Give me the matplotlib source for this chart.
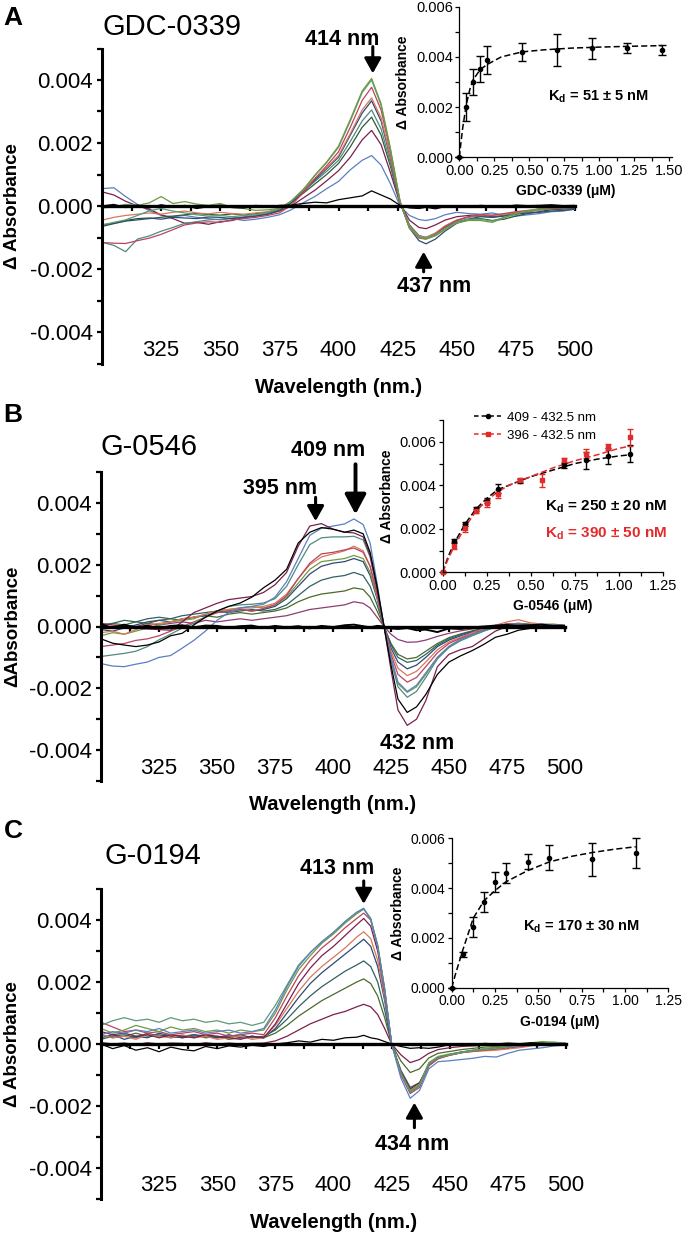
import numpy as np
import matplotlib
matplotlib.use("Agg")
import matplotlib.pyplot as plt
from matplotlib.ticker import MultipleLocator
from matplotlib.lines import Line2D

plt.rcParams['font.family'] = ['Liberation Sans', 'DejaVu Sans']
plt.rcParams['mathtext.fontset'] = 'custom'
plt.rcParams['mathtext.rm'] = 'Liberation Sans'
plt.rcParams['mathtext.bf'] = 'Liberation Sans:bold'

# spectra values are in units of 1e-4 absorbance
UNIT = 1e-4

# ---------------- panel A : GDC-0339 ----------------
wl_a = [300, 305, 310, 315, 320, 325, 330, 335, 340, 345, 350, 355, 360, 365, 370,
        375, 380, 385, 390, 395, 400, 405, 410, 414, 418, 422, 426, 430, 434, 437,
        441, 445, 450, 455, 460, 465, 470, 475, 480, 485, 490, 495, 500]
a_black = [0, 0.5, -0.5, 0.3, -0.6, 0.4, -0.3, 0.2, -0.8, -0.2, 0.3, -0.5, -0.6, 0.2, -0.3,
           0.2, 0.3, 0.8, 1.2, 1.0, 2.0, 2.6, 3.2, 4.8, 3.5, 2.2, 0.2, -0.6, -0.8, -0.4,
           -0.9, -0.2, 0.1, -0.3, 0.2, 0.0, -0.2, 0.3, 0.1, 0.2, 0.4, 0.1, 0.2]
a_blue = [5.5, 5.8, 3.0, 0.5, -1.5, -3.0, -3.4, -3.0, -3.6, -4.0, -4.4, -4.0, -4.6, -4.2, -3.6,
          -2.8, -1.2, 1.0, 3.0, 5.5, 7.8, 11.5, 14.5, 16.0, 13.0, 7.0, 0.0, -3.0, -4.3, -4.6,
          -4.0, -2.8, -2.0, -2.4, -2.6, -2.2, -3.0, -3.2, -2.8, -2.4, -1.8, -1.6, -1.0]
a_maroon = [4.5, 3.5, 1.5, 0.0, -1.0, -2.8, -4.0, -5.5, -5.2, -5.8, -5.0, -4.6, -3.6, -3.2, -2.6,
            -1.6, 0.0, 2.5, 5.0, 8.0, 11.2, 15.5, 21.0, 24.0, 19.5, 10.5, 0.8, -4.5, -6.8, -7.2,
            -6.0, -4.5, -3.4, -3.0, -2.8, -3.4, -3.0, -2.2, -1.8, -1.2, -1.0, -0.8, -0.6]
a_dkgreen = [-6.5, -5.6, -4.8, -4.4, -4.0, -3.6, -3.2, -2.8, -2.4, -2.7, -2.9, -2.5, -2.9, -2.4, -2.0,
             -1.0, 1.0, 4.0, 7.0, 10.0, 13.5, 18.8, 25.0, 28.2, 22.5, 12.5, 1.0, -6.0, -9.4, -10.0,
             -8.8, -6.8, -5.0, -4.2, -4.0, -4.6, -4.2, -3.2, -2.4, -1.8, -1.2, -1.0, -0.8]
a_teal = [-11.5, -12.5, -14.5, -10.5, -9.5, -8.0, -6.8, -5.5, -5.0, -4.4, -4.2, -3.8, -3.5, -3.0, -2.4,
          -1.2, 1.2, 4.5, 7.8, 11.0, 14.5, 20.5, 27.0, 30.5, 24.5, 13.5, 1.0, -6.2, -9.5, -10.0,
          -8.6, -6.5, -4.6, -3.6, -3.2, -3.6, -3.0, -2.4, -1.8, -1.3, -0.9, -0.7, -0.5]
a_navy = [-6.0, -5.5, -4.6, -4.0, -3.8, -4.2, -3.6, -3.8, -4.0, -3.5, -3.6, -4.0, -3.6, -3.2, -2.6,
          -1.4, 1.0, 4.6, 8.2, 11.8, 15.5, 22.5, 29.5, 33.4, 27.0, 15.0, 1.2, -7.0, -11.0, -12.0,
          -10.5, -8.0, -5.5, -4.2, -3.4, -3.6, -3.2, -2.6, -2.2, -2.0, -1.6, -1.4, -1.0]
a_orange = [-4.5, -3.6, -3.0, -2.6, -2.2, -2.6, -2.0, -1.6, -2.2, -2.5, -2.0, -2.4, -2.6, -2.2, -1.8,
            -0.8, 1.5, 5.0, 8.8, 12.2, 16.0, 23.0, 30.5, 34.3, 28.0, 15.5, 1.2, -6.5, -9.6, -10.0,
            -8.6, -6.3, -4.4, -3.4, -2.8, -3.0, -2.6, -2.0, -1.6, -1.2, -0.8, -0.6, -0.4]
a_pink = [-11.6, -11.8, -11.9, -11.0, -10.2, -9.0, -7.5, -6.0, -5.4, -5.0, -5.2, -4.4, -4.0, -3.6, -3.0,
          -2.2, 0.2, 4.2, 8.6, 12.8, 17.2, 25.0, 33.5, 37.7, 30.5, 17.0, 1.5, -7.0, -10.2, -10.5,
          -9.0, -6.6, -4.6, -3.4, -2.8, -2.9, -2.4, -1.8, -1.4, -1.0, -0.8, -0.5, -0.3]
a_olive = [-0.6, -0.3, 0.5, 0.2, 1.0, 3.0, 0.8, 1.4, 0.6, 0.2, 0.8, -0.4, -0.8, -1.4, -1.2,
           -0.8, 1.5, 5.0, 9.8, 14.0, 19.0, 27.5, 36.5, 40.5, 32.5, 18.0, 1.6, -7.0, -10.0, -10.5,
           -9.5, -7.5, -5.4, -4.6, -4.6, -5.2, -3.8, -2.4, -1.6, -0.8, -0.4, -0.2, 0.0]
a_seagreen = [-6.0, -5.2, -4.4, -3.0, -1.5, -0.8, -1.6, -2.2, -2.8, -3.2, -3.0, -3.4, -3.0, -2.8, -2.0,
              -1.0, 1.6, 5.2, 9.6, 13.8, 18.6, 27.0, 36.0, 40.0, 32.0, 17.8, 1.4, -6.8, -9.8, -10.2,
              -9.2, -7.2, -5.0, -4.2, -4.2, -4.8, -3.6, -2.4, -1.6, -1.0, -0.6, -0.3, -0.2]

# inset A
conc_a = [0, 0.05, 0.10, 0.15, 0.20, 0.45, 0.70, 0.95, 1.20, 1.45]
dabs_a = [0, 0.00200, 0.00299, 0.00352, 0.00388, 0.00419, 0.00427, 0.00435, 0.00437, 0.00427]
err_a = [0, 0.00055, 0.00052, 0.00053, 0.00055, 0.00035, 0.00065, 0.00042, 0.00020, 0.00019]
fit_a_x = [0, 0.01, 0.025, 0.05, 0.075, 0.10, 0.15, 0.20, 0.30, 0.45, 0.60, 0.80, 1.00, 1.20, 1.45]
fit_a_y = [0, 0.0005, 0.0012, 0.0021, 0.0027, 0.0031, 0.0035, 0.0037, 0.0040, 0.0042, 0.00428,
           0.00435, 0.00439, 0.00442, 0.00445]

# ---------------- panel B : G-0546 ----------------
wl_b = [300, 305, 310, 315, 320, 325, 330, 335, 340, 345, 350, 355, 360, 365, 370, 375,
        380, 385, 390, 395, 400, 405, 409, 413, 416, 419, 422, 425, 428, 432, 436, 440,
        445, 450, 455, 460, 465, 470, 475, 480, 485, 490, 495, 500]
b_blue = [-12.0, -12.8, -13.0, -12.2, -11.5, -10.0, -9.4, -7.0, -4.5, -1.5, 2.0, 4.5, 6.0, 6.5, 7.2, 9.5,
          14.5, 22.0, 29.5, 31.8, 32.5, 33.2, 34.8, 33.0, 27.0, 14.0, 0.0, -10.0, -18.0, -21.0, -19.0, -15.0,
          -10.0, -6.5, -4.2, -2.6, -1.2, 0.0, 0.6, 0.8, 0.6, 0.8, 0.5, 0.3]
b_black = [-4.0, -5.4, -6.0, -6.5, -6.0, -5.0, -3.0, -2.2, 0.5, 3.0, 5.0, 6.5, 7.6, 9.5, 12.5, 15.0,
           18.5, 27.0, 30.5, 32.0, 31.5, 30.5, 31.2, 30.0, 24.0, 13.0, 0.0, -12.5, -23.5, -27.8, -26.0, -22.0,
           -15.5, -11.5, -9.5, -7.8, -5.8, -3.5, -2.5, -1.2, -0.6, 0.0, 0.2, 0.0]
b_maroon = [1.0, 0.5, 0.0, -0.5, -0.8, -1.0, -1.2, 1.5, 4.5, 6.0, 7.5, 8.7, 9.2, 9.7, 11.0, 13.5,
            17.5, 26.0, 32.5, 33.3, 31.5, 30.5, 30.3, 29.0, 23.0, 12.0, 0.0, -14.0, -27.0, -32.0, -30.0, -24.0,
            -13.0, -9.0, -7.5, -6.5, -4.0, -1.5, 0.0, 0.4, 0.5, 0.3, 0.2, 0.1]
b_teal = [-9.7, -9.2, -8.7, -8.0, -6.5, -4.3, -2.5, -0.5, 1.0, 3.0, 5.0, 6.5, 7.0, 7.2, 7.6, 9.0,
          13.0, 20.0, 26.5, 28.7, 29.0, 29.0, 29.2, 28.0, 22.5, 12.0, 0.0, -11.0, -19.5, -22.9, -21.0, -16.5,
          -10.5, -6.8, -4.6, -3.0, -1.5, -0.2, 0.6, 0.8, 0.6, 0.4, 0.6, 0.2]
b_pink = [-6.5, -6.0, -5.5, -4.5, -4.0, -3.0, -1.5, 0.0, 1.5, 3.0, 4.5, 5.0, 5.5, 5.0, 5.8, 7.0,
          10.0, 15.5, 20.5, 23.5, 24.0, 24.8, 25.4, 24.0, 19.5, 10.5, 0.0, -9.0, -15.5, -18.0, -16.5, -13.0,
          -8.5, -5.5, -3.8, -2.4, -1.2, 0.0, 0.8, 1.0, 0.6, 0.5, 0.6, 0.2]
b_orange = [-2.0, -1.5, -2.5, -1.0, 0.5, 1.0, 1.5, 2.5, 3.0, 4.0, 5.0, 5.5, 6.0, 6.0, 6.5, 7.5,
            10.5, 15.5, 20.0, 22.5, 23.5, 24.5, 26.0, 24.5, 19.5, 10.0, 0.0, -8.0, -13.5, -15.9, -14.5, -11.5,
            -7.5, -5.0, -3.5, -2.0, -0.8, 0.4, 1.5, 2.2, 1.2, 0.8, 0.6, 0.2]
b_olive = [-3.0, -2.0, -2.5, -1.5, -0.5, 0.5, 1.5, 2.0, 2.5, 4.0, 5.0, 5.5, 6.0, 6.5, 6.0, 7.0,
           9.5, 14.0, 18.5, 21.0, 21.5, 22.0, 23.0, 22.0, 17.5, 9.5, 0.0, -10.5, -18.5, -21.3, -19.5, -15.5,
           -10.0, -6.4, -4.2, -2.8, -1.4, -0.2, 0.6, 1.0, 0.8, 0.6, 0.8, 0.3]
b_navy = [-1.0, -1.5, -0.5, 0.5, 1.5, 2.0, 1.5, 2.5, 3.0, 3.5, 4.5, 5.0, 5.5, 5.0, 5.5, 6.5,
          9.0, 13.0, 17.0, 19.5, 20.5, 21.0, 22.0, 21.0, 16.5, 9.0, 0.0, -7.0, -11.5, -13.7, -12.5, -10.0,
          -6.5, -4.4, -3.0, -1.8, -0.8, 0.2, 0.8, 1.0, 0.6, 0.6, 0.4, 0.2]
b_dkteal = [0.5, 1.0, 2.0, 1.5, 2.5, 3.0, 2.5, 3.5, 4.0, 4.5, 5.0, 4.5, 5.0, 5.5, 5.0, 5.5,
            7.0, 10.0, 13.0, 15.0, 16.0, 16.5, 17.5, 16.5, 13.0, 7.0, 0.0, -6.0, -10.0, -11.6, -11.0, -9.0,
            -6.0, -4.0, -2.6, -1.6, -0.6, 0.2, 0.8, 0.8, 0.5, 0.4, 0.6, 0.2]
b_dkolive = [0.0, 1.0, 0.5, 1.5, 1.0, 2.0, 2.5, 2.0, 3.0, 3.5, 3.0, 4.0, 4.5, 4.0, 4.5, 5.0,
             6.0, 8.0, 9.5, 10.5, 11.0, 11.5, 12.5, 12.0, 9.5, 5.0, 0.0, -5.5, -9.0, -10.5, -10.0, -8.0,
             -5.5, -3.6, -2.4, -1.4, -0.6, 0.2, 0.6, 0.6, 0.4, 0.5, 0.3, 0.1]
b_purple = [0.0, -0.5, 0.5, 0.0, 1.0, 0.5, 1.0, 1.5, 1.0, 2.0, 1.5, 2.0, 2.5, 2.0, 2.5, 3.0,
            3.5, 4.5, 5.5, 6.0, 6.5, 7.0, 8.0, 7.5, 6.0, 3.0, 0.0, -2.5, -4.2, -5.1, -5.0, -4.4,
            -3.2, -2.2, -1.4, -0.8, -0.4, 0.0, 0.4, 0.4, 0.3, 0.2, 0.3, 0.1]
b_base = [0.8, -0.5, 0.6, -0.4, 0.3, -0.6, 0.2, 0.4, -0.3, 0.3, 0.2, -0.4, 0.1, 0.3, -0.5, 0.2,
          -0.3, 0.1, -0.6, 0.2, -0.2, 0.4, 0.6, 0.1, -0.3, 0.2, 0.0, -0.6, -0.8, -0.5, -1.2, -1.0,
          -1.8, -0.6, -0.8, -0.3, 0.0, 0.3, 0.5, 0.2, 0.4, 0.6, 0.2, 0.3]

# inset B (two wavelength pairs)
conc_b_k = [0, 0.0625, 0.125, 0.1875, 0.25, 0.3125, 0.4375, 0.6875, 0.8125, 0.9375, 1.0625]
dabs_b_k = [0, 0.00145, 0.00222, 0.00290, 0.00330, 0.00385, 0.00420, 0.00492, 0.00515, 0.00535, 0.00545]
err_b_k = [0, 0.0001, 0.0001, 0.0001, 0.0001, 0.0002, 0.0001, 0.00012, 0.0004, 0.00035, 0.0004]
conc_b_r = [0, 0.0625, 0.125, 0.1875, 0.25, 0.3125, 0.4375, 0.5625, 0.6875, 0.8125, 0.9375, 1.0625]
dabs_b_r = [0, 0.00122, 0.00203, 0.00283, 0.00318, 0.00360, 0.00423, 0.00423, 0.00515, 0.00545, 0.00575, 0.00620]
err_b_r = [0, 0.00015, 0.00017, 0.0001, 0.0002, 0.0002, 0.0001, 0.0003, 0.0001, 0.0002, 0.00015, 0.0004]
fit_b_x = [0, 0.03, 0.0625, 0.125, 0.1875, 0.25, 0.3125, 0.375, 0.4375, 0.5, 0.625, 0.75, 0.875, 1.0, 1.0625]
fit_b_k = [0, 0.0007, 0.0013, 0.0022, 0.0029, 0.0034, 0.0038, 0.0040, 0.0042, 0.0044, 0.0047, 0.0050,
           0.0052, 0.00535, 0.0054]
fit_b_r = [0, 0.0006, 0.00115, 0.00205, 0.0028, 0.0033, 0.0037, 0.0040, 0.0042, 0.0044, 0.0048, 0.00513,
           0.0054, 0.0057, 0.0058]

# ---------------- panel C : G-0194 ----------------
wl_c = [300, 305, 310, 315, 320, 325, 330, 335, 340, 345, 350, 355, 360, 365, 370, 375,
        380, 385, 390, 395, 400, 405, 410, 413, 416, 419, 422, 425, 429, 433, 437, 441,
        445, 450, 455, 460, 465, 470, 475, 480, 485, 490, 495, 500]
c_blue = [3.0, 4.0, 3.5, 4.5, 4.0, 5.0, 3.5, 4.0, 4.5, 3.5, 4.0, 4.5, 3.5, 4.0, 5.0, 11.0,
          18.5, 25.0, 29.5, 33.0, 36.0, 39.5, 42.5, 43.8, 40.0, 31.5, 17.5, 0.0, -11.0, -17.5, -15.0, -8.0,
          -5.7, -5.4, -5.0, -4.6, -4.0, -4.2, -3.0, -2.0, -1.6, -1.2, -0.6, -0.3]
c_seagreen = [6.0, 7.5, 8.5, 7.5, 8.0, 7.0, 8.5, 7.5, 8.0, 7.0, 7.5, 6.5, 7.0, 6.0, 7.0, 12.5,
              19.0, 25.5, 29.5, 33.0, 36.0, 39.5, 42.5, 43.6, 40.5, 31.5, 17.5, 0.0, -9.5, -15.5, -13.5, -6.5,
              -4.5, -3.5, -2.8, -2.2, -1.8, -1.4, -1.0, -0.6, 0.0, 0.4, 0.6, 0.2]
c_olive = [5.0, 3.5, 4.5, 6.0, 5.0, 4.0, 5.5, 4.5, 5.0, 4.0, 4.5, 3.5, 4.5, 4.0, 4.5, 10.0,
           17.5, 24.0, 28.5, 32.5, 35.5, 39.0, 42.0, 43.5, 40.5, 32.0, 18.0, 0.0, -9.5, -15.0, -13.0, -6.0,
           -4.0, -3.2, -2.6, -2.0, -1.5, -1.0, -0.6, -0.2, 0.4, 0.8, 0.5, 0.3]
c_pink = [7.0, 5.5, 4.0, 4.5, 3.5, 4.0, 3.0, 3.5, 4.0, 3.0, 3.5, 2.5, 3.0, 3.5, 3.0, 8.5,
          15.5, 22.0, 27.0, 31.0, 34.0, 37.5, 40.5, 42.2, 40.0, 31.5, 17.5, 0.0, -10.0, -16.0, -14.0, -7.0,
          -4.8, -3.6, -2.8, -2.4, -2.0, -1.6, -1.2, -0.8, -0.4, 0.0, 0.2, 0.0]
c_magenta = [4.0, 3.0, 3.5, 2.5, 3.0, 2.0, 3.0, 2.5, 2.0, 3.0, 2.5, 2.0, 1.5, 2.5, 2.0, 6.5,
             13.0, 19.5, 24.5, 28.5, 31.5, 35.0, 38.5, 40.5, 38.0, 30.0, 16.5, 0.0, -9.0, -14.5, -12.5, -6.5,
             -4.4, -3.4, -2.6, -2.2, -1.8, -1.4, -1.0, -0.6, -0.2, 0.0, 0.3, 0.0]
c_orange = [3.0, 2.0, 2.5, 1.5, 3.0, 2.5, 2.0, 3.0, 2.0, 2.5, 1.5, 2.0, 2.5, 1.5, 2.0, 6.0,
            11.5, 17.0, 21.5, 25.0, 28.0, 31.0, 34.5, 36.2, 34.0, 27.0, 15.0, 0.0, -9.0, -15.0, -13.0, -6.5,
            -4.5, -3.6, -2.8, -2.4, -2.2, -2.0, -1.6, -1.2, -0.6, -0.2, 0.2, 0.0]
c_navy = [2.0, 3.0, 1.5, 2.5, 2.0, 3.5, 2.5, 2.0, 3.0, 2.5, 2.0, 3.0, 2.0, 2.5, 2.0, 5.0,
          10.0, 15.0, 19.5, 23.0, 26.0, 29.0, 32.0, 33.8, 31.5, 25.0, 14.0, 0.0, -9.5, -15.5, -13.5, -7.0,
          -4.6, -3.6, -2.8, -2.2, -2.0, -1.6, -1.2, -0.8, -0.4, 0.0, 0.2, 0.0]
c_dkteal = [1.5, 2.5, 3.0, 2.0, 3.5, 2.5, 3.0, 2.0, 2.5, 3.0, 2.0, 2.5, 3.0, 2.0, 2.5, 4.5,
            8.0, 12.0, 15.5, 18.5, 21.0, 23.5, 25.5, 26.8, 25.0, 20.0, 11.0, 0.0, -8.5, -14.0, -12.5, -6.8,
            -4.4, -3.4, -2.6, -2.0, -1.6, -1.2, -0.8, -0.4, 0.0, 0.2, 0.4, 0.1]
c_dkolive = [3.0, 2.0, 2.5, 3.5, 2.5, 3.0, 2.0, 2.5, 3.0, 2.0, 2.5, 1.5, 2.0, 2.5, 2.0, 3.5,
             6.0, 9.0, 11.5, 14.0, 16.0, 18.0, 20.0, 21.0, 19.5, 15.5, 8.5, 0.0, -5.5, -9.2, -8.0, -4.5,
             -3.0, -2.4, -1.8, -1.4, -1.0, -0.8, -0.4, -0.2, 0.2, 0.4, 0.2, 0.1]
c_maroon = [0.5, 0.0, 0.3, -0.2, 0.4, 0.0, 0.3, 0.2, -0.2, 0.4, 0.0, 0.3, 0.0, 0.2, 0.3, 1.0,
            2.5, 4.5, 6.5, 8.0, 9.5, 10.5, 12.0, 12.8, 12.0, 9.5, 5.0, 0.0, -3.5, -6.0, -5.0, -3.0,
            -1.8, -1.2, -0.8, -0.6, -0.4, -0.3, -0.2, 0.0, 0.1, 0.2, 0.1, 0.0]
c_black = [0.0, -1.5, -0.5, -2.0, -1.2, -2.5, -1.0, -1.8, -2.2, -0.8, -1.5, -0.6, -1.0, -0.4, -0.8, 0.0,
           0.4, 1.0, 0.6, 1.5, 1.2, 2.0, 2.2, 2.8, 2.0, 1.6, 0.8, 0.0, -0.8, -1.4, -1.2, -1.4,
           -1.0, -0.2, 0.0, -0.3, 0.2, 0.0, 0.3, 0.1, 0.4, 0.2, 0.0, 0.1]

# inset C
conc_c = [0, 0.0625, 0.125, 0.1875, 0.25, 0.3125, 0.4375, 0.5625, 0.8125, 1.0625]
dabs_c = [0, 0.00135, 0.00242, 0.00344, 0.00424, 0.00459, 0.00505, 0.00522, 0.00515, 0.00540]
err_c = [0, 0.0001, 0.0004, 0.0004, 0.0004, 0.0004, 0.0003, 0.0005, 0.00065, 0.0006]
fit_c_x = [0, 0.02, 0.0625, 0.125, 0.1875, 0.25, 0.3125, 0.4375, 0.5625, 0.6875, 0.8125, 0.9375, 1.0625]
fit_c_y = [0, 0.0005, 0.00148, 0.0028, 0.0035, 0.0039, 0.00425, 0.0047, 0.00505, 0.00527, 0.00543,
           0.00556, 0.00566]

# colours
BLUE, MAROON, DKGREEN, TEAL = '#5b7fc0', '#7b1f4b', '#2f5a35', '#4f8a80'
NAVY, ORANGE, PINK, OLIVE = '#2d4a75', '#d9775a', '#b8455f', '#6f9a3f'
SEAGREEN, PURPLE, DKOLIVE, DKTEAL = '#5c9a78', '#8e3c72', '#4b6a2a', '#2f6262'
RED = '#e32b2b'

W, H = 690, 1236
fig = plt.figure(figsize=(W / 100, H / 100), dpi=100)


def px_axes(l, t, r, b):
    return fig.add_axes([l / W, 1 - b / H, (r - l) / W, (b - t) / H])


def style_main(ax, ylabel):
    ax.set_xlim(300, 500)
    ax.set_ylim(-0.005, 0.005)
    ax.spines['top'].set_visible(False)
    ax.spines['right'].set_visible(False)
    ax.spines['left'].set_linewidth(2.2)
    ax.spines['bottom'].set_position(('data', 0))
    ax.spines['bottom'].set_linewidth(2.4)
    ax.set_xticks(np.arange(325, 501, 25))
    ax.set_xticks(np.arange(312.5, 500, 25), minor=True)
    ax.tick_params(axis='x', which='both', length=3.5, width=1.6, labelbottom=False)
    ax.set_yticks([-0.004, -0.002, 0, 0.002, 0.004])
    ax.set_yticklabels(['-0.004', '-0.002', '0.000', '0.002', '0.004'])
    ax.yaxis.set_minor_locator(MultipleLocator(0.001))
    ax.tick_params(axis='y', which='both', length=3.5, width=1.6, labelsize=16, pad=3)
    sec = ax.secondary_xaxis(0.085)
    sec.set_xticks(np.arange(325, 501, 25))
    sec.tick_params(length=0, labelsize=16, pad=2)
    for s in sec.spines.values():
        s.set_visible(False)
    ax.text(0.5, -0.075, 'Wavelength (nm.)', transform=ax.transAxes, ha='center',
            va='center', fontsize=14.5, fontweight='bold')
    ax.text(-0.19, 0.5, ylabel, transform=ax.transAxes, ha='center', va='center',
            rotation=90, fontsize=13.5, fontweight='bold')


def style_inset(ax, xmax, ymax, xticks, xlabel, tsize):
    ax.set_xlim(0, xmax)
    ax.set_ylim(0, ymax)
    ax.spines['top'].set_visible(False)
    ax.spines['right'].set_visible(False)
    for s in ['left', 'bottom']:
        ax.spines[s].set_linewidth(0.9)
    ax.set_xticks(xticks)
    ax.set_xticklabels(['%.2f' % v for v in xticks])
    ax.xaxis.set_minor_locator(MultipleLocator(0.125))
    yt = [0, 0.002, 0.004, 0.006]
    ax.set_yticks(yt)
    ax.set_yticklabels(['%.3f' % v for v in yt])
    ax.yaxis.set_minor_locator(MultipleLocator(0.001))
    ax.tick_params(which='both', direction='out', length=3, width=0.9, labelsize=tsize, pad=1.5)
    ax.set_xlabel(xlabel, fontsize=10, fontweight='bold', labelpad=5)
    ax.set_ylabel('Δ Absorbance', fontsize=10, fontweight='bold', labelpad=4)


def arrow(ax, x, y0, y1, big=False):
    if big:
        st, lw, ms = '-|>,head_length=0.6,head_width=0.32', 2.8, 20
    else:
        st, lw, ms = '-|>,head_length=0.5,head_width=0.28', 2.2, 18
    ax.annotate('', xy=(x, y1), xytext=(x, y0), annotation_clip=False,
                arrowprops=dict(arrowstyle=st, lw=lw, color='k', mutation_scale=ms,
                                shrinkA=0, shrinkB=0))


def label_text(ax, x, y, s):
    ax.text(x, y, s, ha='center', va='center', fontsize=15.5, fontweight='bold', clip_on=False)


def spectra(ax, wl, curves):
    for vals, col in curves:
        ax.plot(wl, np.array(vals) * UNIT, color=col, lw=0.9)


# ---------- A ----------
axA = px_axes(102, 48.5, 575, 363.5)
spectra(axA, wl_a, [(a_blue, BLUE), (a_maroon, MAROON), (a_dkgreen, DKGREEN), (a_teal, TEAL),
                    (a_navy, NAVY), (a_orange, ORANGE), (a_pink, PINK), (a_seagreen, SEAGREEN),
                    (a_olive, OLIVE), (a_black, 'k')])
style_main(axA, 'Δ Absorbance')
arrow(axA, 414.5, 0.00506, 0.00421)
label_text(axA, 401.6, 0.00527, '414 nm')
arrow(axA, 436, -0.00209, -0.00145)
label_text(axA, 440.5, -0.00256, '437 nm')
fig.text(13 / W, 1 - 18 / H, 'A', fontsize=19, fontweight='bold', ha='center', va='center')
fig.text(103 / W, 1 - 27 / H, 'GDC-0339', fontsize=21, ha='left', va='center')

iA = px_axes(459.3, 6.7, 672, 157.3)
iA.plot(fit_a_x, fit_a_y, color='k', lw=1.1, dashes=(4, 2))
iA.errorbar(conc_a, dabs_a, yerr=err_a, fmt='o', ms=3, color='k', elinewidth=1,
            capsize=3, capthick=1, clip_on=False)
style_inset(iA, 1.52, 0.006, [0, 0.25, 0.5, 0.75, 1.0, 1.25, 1.5], 'GDC-0339 (μM)', 10.5)
iA.text(0.655, 0.4, r'K$_{\mathbf{d}}$ = 51 ± 5 nM', transform=iA.transAxes, ha='center',
        va='center', fontsize=10.5, fontweight='bold')

# ---------- B ----------
axB = px_axes(101, 472, 565, 781)
spectra(axB, wl_b, [(b_purple, PURPLE), (b_dkolive, DKOLIVE), (b_dkteal, DKTEAL), (b_navy, NAVY),
                    (b_olive, OLIVE), (b_orange, ORANGE), (b_pink, PINK), (b_teal, TEAL),
                    (b_blue, BLUE), (b_maroon, MAROON), (b_black, 'k')])
axB.plot(wl_b, np.array(b_base) * UNIT, color='k', lw=1.4)
style_main(axB, 'ΔAbsorbance')
arrow(axB, 409.7, 0.00525, 0.00363, big=True)
label_text(axB, 397.8, 0.00568, '409 nm')
arrow(axB, 392.5, 0.00418, 0.00341)
label_text(axB, 377.2, 0.00447, '395 nm')
label_text(axB, 436.2, -0.00379, '432 nm')
fig.text(13 / W, 1 - 415 / H, 'B', fontsize=19, fontweight='bold', ha='center', va='center')
fig.text(101 / W, 1 - 447 / H, 'G-0546', fontsize=21, ha='left', va='center')

iB = px_axes(442.7, 420, 663.3, 572.3)
iB.plot(fit_b_x, fit_b_k, color='k', lw=1.1, dashes=(4, 2))
iB.plot(fit_b_x, fit_b_r, color=RED, lw=1.1, dashes=(4, 2))
iB.errorbar(conc_b_k, dabs_b_k, yerr=err_b_k, fmt='o', ms=3, color='k', elinewidth=1,
            capsize=2.5, capthick=1, clip_on=False)
iB.errorbar(conc_b_r, dabs_b_r, yerr=err_b_r, fmt='s', ms=3, color=RED, elinewidth=1,
            capsize=2.5, capthick=1, clip_on=False)
style_inset(iB, 1.25, 0.007, [0, 0.25, 0.5, 0.75, 1.0, 1.25], 'G-0546 (μM)', 10.5)
handles = [Line2D([], [], color='k', lw=1.1, dashes=(3, 2), marker='o', ms=3),
           Line2D([], [], color=RED, lw=1.1, dashes=(3, 2), marker='s', ms=3)]
iB.legend(handles, ['409 - 432.5 nm', '396 - 432.5 nm'], loc='upper left',
          bbox_to_anchor=(0.12, 1.09), frameon=False, fontsize=9.5, handlelength=2.0,
          handletextpad=0.5, labelspacing=0.45, borderaxespad=0)
iB.text(0.74, 0.43, r'K$_{\mathbf{d}}$ = 250 ± 20 nM', transform=iB.transAxes, ha='center',
        va='center', fontsize=11, fontweight='bold')
iB.text(0.74, 0.255, r'K$_{\mathbf{d}}$ = 390 ± 50 nM', transform=iB.transAxes, ha='center',
        va='center', fontsize=11, fontweight='bold', color=RED)

# ---------- C ----------
axC = px_axes(101, 889, 566, 1199)
spectra(axC, wl_c, [(c_maroon, MAROON), (c_dkolive, DKOLIVE), (c_dkteal, DKTEAL), (c_navy, NAVY),
                    (c_orange, ORANGE), (c_magenta, MAROON), (c_pink, PINK), (c_olive, OLIVE),
                    (c_seagreen, SEAGREEN), (c_blue, BLUE), (c_black, 'k')])
style_main(axC, 'Δ Absorbance')
arrow(axC, 413, 0.00526, 0.00452)
label_text(axC, 401.6, 0.00565, '413 nm')
arrow(axC, 434.8, -0.0027, -0.00189)
label_text(axC, 433.9, -0.00323, '434 nm')
fig.text(13 / W, 1 - 831 / H, 'C', fontsize=19, fontweight='bold', ha='center', va='center')
fig.text(104 / W, 1 - 856 / H, 'G-0194', fontsize=21, ha='left', va='center')

iC = px_axes(451.7, 838.3, 668.3, 987.7)
iC.plot(fit_c_x, fit_c_y, color='k', lw=1.1, dashes=(4, 2))
iC.errorbar(conc_c, dabs_c, yerr=err_c, fmt='o', ms=3, color='k', elinewidth=1,
            capsize=3, capthick=1, clip_on=False)
style_inset(iC, 1.25, 0.006, [0, 0.25, 0.5, 0.75, 1.0, 1.25], 'G-0194 (μM)', 10)
iC.text(0.6, 0.41, r'K$_{\mathbf{d}}$ = 170 ± 30 nM', transform=iC.transAxes, ha='center',
        va='center', fontsize=10.5, fontweight='bold')

fig.savefig('out.png', dpi=100)
